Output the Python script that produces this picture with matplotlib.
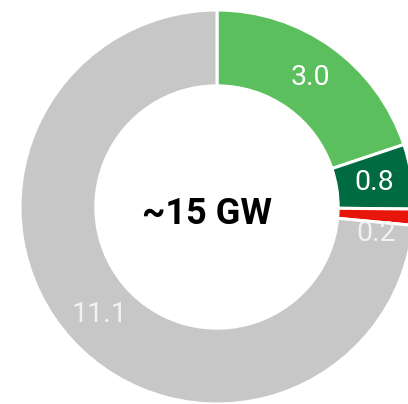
import numpy as np
import matplotlib
matplotlib.use("Agg")
import matplotlib.pyplot as plt


# capacity split, GW
values = [3.0, 0.8, 0.2, 11.1]
labels = ["3.0", "0.8", "0.2", "11.1"]
colors = ["#5bbf5e", "#006b40", "#e8160a", "#c7c7c7"]
total_label = "~15 GW"

W, H = 408, 404
CX, CY, R = 217, 207, 197  # donut centre / radius in pixels

fig = plt.figure(figsize=(W / 100, H / 100), dpi=100)
ax = fig.add_axes([0, 0, 1, 1])
ax.pie(values, colors=colors, startangle=90, counterclock=False, radius=1,
       wedgeprops=dict(width=0.385, edgecolor="white", linewidth=2.2))
ax.set_xlim(-CX / R, (W - CX) / R)
ax.set_ylim(-(H - CY) / R, CY / R)
ax.set_aspect("equal")
ax.axis("off")

# value labels in the ring, the tiny slice nudged down a bit
total = sum(values)
start = 90.0
nudge = [0, 0, -6.5, 0]
for v, lab, dn in zip(values, labels, nudge):
    span = v / total * 360
    mid = np.radians(start - span / 2 + dn)
    start -= span
    r = 0.82 if dn else 0.81
    col = "white" if v in (3.0, 0.8) else "#f2f2f2"
    ax.text(r * np.cos(mid), r * np.sin(mid), lab, ha="center", va="center",
            fontsize=20.5, color=col, family="Roboto")

ax.text(-10 / R, -7 / R, total_label, ha="center", va="center",
        fontsize=26, fontweight="bold", family="Roboto")

fig.savefig("out.png", dpi=100)
